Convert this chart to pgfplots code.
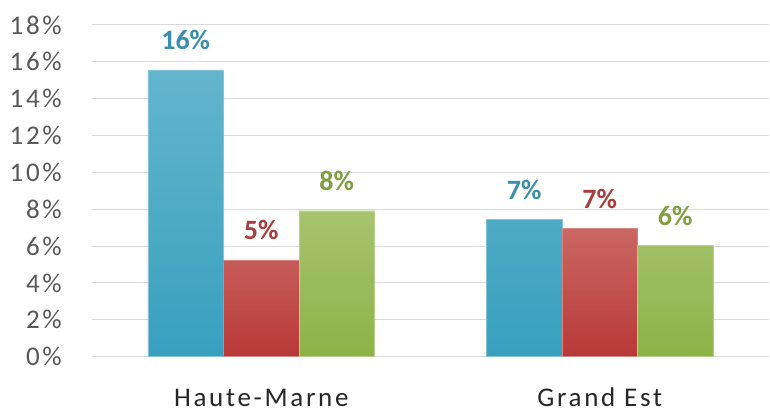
\documentclass[border=0pt]{standalone}
\usepackage{pgfplots}
\pgfplotsset{compat=1.18}
\usepackage{fontspec}
\setmainfont{Carlito}
\newfontfamily\tickfont[LetterSpace=10]{Carlito}
\definecolor{bluetop}{HTML}{64B5CD}
\definecolor{bluebot}{HTML}{37A0BE}
\definecolor{redtop}{HTML}{CA6763}
\definecolor{redbot}{HTML}{B83937}
\definecolor{greentop}{HTML}{A7C36F}
\definecolor{greenbot}{HTML}{8DB347}
\definecolor{bluelab}{HTML}{3A8FAE}
\definecolor{redlab}{HTML}{A83E3B}
\definecolor{greenlab}{HTML}{7E9E40}
\definecolor{gridc}{HTML}{D9D9D9}
\definecolor{tickc}{HTML}{595959}
\begin{document}
\begin{tikzpicture}[x=1pt,y=1pt]
\useasboundingbox (-92,-57.3) rectangle (678,356.7);
\begin{axis}[
  at={(0,0)}, anchor=south west,
  scale only axis,
  width=677pt, height=331.7pt,
  xmin=-0.5, xmax=1.5,
  ymin=0, ymax=18,
  ytick={0,2,...,18},
  xtick={0,1},
  xticklabels={Haute-Marne, Grand Est},
  axis line style={draw=none},
  tick style={draw=none},
  ymajorgrids,
  major grid style={draw=gridc, line width=1pt},
  /pgf/number format/assume math mode=true,
  yticklabel={\pgfmathprintnumber{\tick}\%},
  yticklabel style={font=\tickfont\fontsize{27}{27}\selectfont, text=tickc, anchor=east, inner sep=0pt, xshift=-30pt},
  xticklabel style={font=\tickfont\fontsize{27}{27}\selectfont, text=black!85, anchor=base, inner sep=0pt, yshift=-46pt},
  ybar=0pt,
  bar width=75.5pt,
  nodes near coords={\pgfmathprintnumber[fixed,precision=0]{\pgfplotspointmeta}\%},
  every node near coord/.append style={font=\bfseries\fontsize{28}{28}\selectfont, anchor=base, inner sep=0pt, yshift=20pt},
]
\addplot[draw=bluetop!80!white, top color=bluetop, bottom color=bluebot, every node near coord/.append style={text=bluelab}]
  coordinates {(0,15.57) (1,7.47)};
\addplot[draw=redtop!80!white, top color=redtop, bottom color=redbot, every node near coord/.append style={text=redlab}]
  coordinates {(0,5.26) (1,6.98)};
\addplot[draw=greentop!80!white, top color=greentop, bottom color=greenbot, every node near coord/.append style={text=greenlab}]
  coordinates {(0,7.92) (1,6.04)};
\end{axis}
\end{tikzpicture}
\end{document}
